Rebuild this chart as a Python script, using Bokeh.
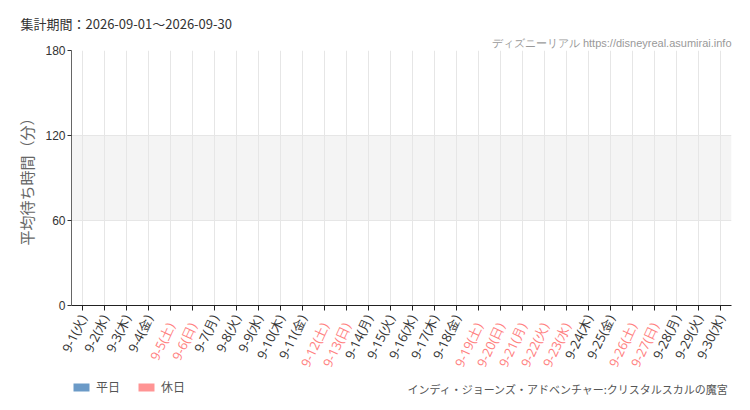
import math
from bokeh.plotting import figure
from bokeh.layouts import column
from bokeh.models import (ColumnDataSource, FactorRange, Range1d, BoxAnnotation,
                          Legend, LegendItem, FixedTicker, CustomJSTickFormatter,
                          CategoricalAxis, Title, Label)
from bokeh.embed import file_html
from bokeh.resources import INLINE

# ---- data ----
dates = ["9-1", "9-2", "9-3", "9-4", "9-5", "9-6", "9-7", "9-8", "9-9", "9-10",
         "9-11", "9-12", "9-13", "9-14", "9-15", "9-16", "9-17", "9-18", "9-19", "9-20",
         "9-21", "9-22", "9-23", "9-24", "9-25", "9-26", "9-27", "9-28", "9-29", "9-30"]
dows = ["火", "水", "木", "金", "土", "日", "月", "火", "水", "木",
        "金", "土", "日", "月", "火", "水", "木", "金", "土", "日",
        "月", "火", "水", "木", "金", "土", "日", "月", "火", "水"]
is_holiday = [0, 0, 0, 0, 1, 1, 0, 0, 0, 0,
              0, 1, 1, 0, 0, 0, 0, 0, 1, 1,
              1, 1, 1, 0, 0, 1, 1, 0, 0, 0]
# no wait-time values were recorded in this period (the chart is empty)
avg_wait = [None, None, None, None, None, None, None, None, None, None,
            None, None, None, None, None, None, None, None, None, None,
            None, None, None, None, None, None, None, None, None, None]
y_ticks = [0, 60, 120, 180]
period_text = "集計期間：2026-09-01〜2026-09-30"
site_text = "ディズニーリアル https://disneyreal.asumirai.info"
attraction = "インディ・ジョーンズ・アドベンチャー:クリスタルスカルの魔宮"
y_label = "平均待ち時間（分）"
legend_labels = ["平日", "休日"]

WEEKDAY_COLOR = "#6b9ac7"
HOLIDAY_COLOR = "#ff9494"
HOLIDAY_TEXT = "#ff8080"
TEXT_DARK = "#333333"

cats = [f"{d}({w})" for d, w in zip(dates, dows)]
hol_cats = [c for c, h in zip(cats, is_holiday) if h]
nan = float("nan")
vals = [nan if v is None else v for v in avg_wait]

xr = FactorRange(*cats)

p = figure(frame_width=660, frame_height=255, x_range=xr,
           y_range=Range1d(y_ticks[0], y_ticks[-1]),
           output_backend="svg", toolbar_location=None,
           min_border_left=71, min_border_right=19, min_border_top=50,
           min_border_bottom=68)
p.outline_line_color = None
p.background_fill_color = "white"
p.border_fill_color = "white"

p.add_layout(BoxAnnotation(bottom=y_ticks[1], top=y_ticks[2], fill_color="#f4f4f4",
                           fill_alpha=1, line_color=None, level="image"))

wk_src = ColumnDataSource(dict(x=[c for c, h in zip(cats, is_holiday) if not h],
                               top=[v for v, h in zip(vals, is_holiday) if not h]))
hd_src = ColumnDataSource(dict(x=[c for c, h in zip(cats, is_holiday) if h],
                               top=[v for v, h in zip(vals, is_holiday) if h]))
p.vbar(x="x", top="top", width=0.7, source=wk_src, fill_color=WEEKDAY_COLOR, line_color=None)
p.vbar(x="x", top="top", width=0.7, source=hd_src, fill_color=HOLIDAY_COLOR, line_color=None)

p.xgrid.grid_line_color = "#e6e6e6"
p.ygrid.grid_line_color = "#e6e6e6"
p.ygrid.ticker = FixedTicker(ticks=y_ticks)

# ---- y axis ----
ya = p.yaxis[0]
ya.ticker = FixedTicker(ticks=y_ticks)
ya.axis_line_color = "#666666"
ya.major_tick_line_color = "#333333"
ya.major_tick_in = 0
ya.major_tick_out = 4
ya.minor_tick_line_color = None
ya.major_label_text_font = "Liberation Sans"
ya.major_label_text_font_size = "12px"
ya.major_label_text_color = "#333333"
ya.major_label_standoff = 2
ya.axis_label = y_label
ya.axis_label_text_font = "Noto Sans CJK JP"
ya.axis_label_text_font_style = "normal"
ya.axis_label_text_font_size = "15px"
ya.axis_label_text_color = "#666666"
ya.axis_label_standoff = 5

ORIENT = math.radians(65)

# ---- x axis A: weekday labels (dark) ----
xa = p.below[0]
xa.axis_line_color = "#222222"
xa.major_tick_line_color = "#222222"
xa.major_tick_in = 0
xa.major_tick_out = 5
xa.major_label_orientation = ORIENT
xa.major_label_standoff = 5
xa.major_label_text_font = "Open Sans"
xa.major_label_text_font_size = "13px"
xa.major_label_text_color = TEXT_DARK
xa.formatter = CustomJSTickFormatter(args=dict(hol=hol_cats),
                                     code="return hol.includes(tick) ? '' : tick")

# ---- x axis B: holiday labels (pink), pulled up onto the same row ----
xb = CategoricalAxis()
xb.axis_line_color = None
xb.major_tick_line_color = None
xb.minor_tick_line_color = None
xb.major_tick_in = 0
xb.major_tick_out = 0
xb.major_label_orientation = ORIENT
xb.major_label_standoff = -45
xb.major_label_text_font = "Open Sans"
xb.major_label_text_font_size = "13px"
xb.major_label_text_color = HOLIDAY_TEXT
xb.formatter = CustomJSTickFormatter(args=dict(hol=hol_cats),
                                     code="return hol.includes(tick) ? tick : ''")
p.add_layout(xb, "below")

# ---- top texts ----
p.add_layout(Title(text=site_text, align="right", standoff=4,
                   text_font="Liberation Sans", text_font_size="11px",
                   text_font_style="normal", text_color="#999999"), "above")
p.add_layout(Title(text=period_text, align="left", offset=-51, standoff=0,
                   text_font="Noto Sans CJK JP", text_font_size="13px",
                   text_font_style="normal", text_color=TEXT_DARK), "above")

# ---- bottom strip: legend and attraction name ----
p2 = figure(frame_width=660, frame_height=37, x_range=xr, y_range=Range1d(0, 1),
            output_backend="svg", toolbar_location=None,
            min_border_left=71, min_border_right=19, min_border_top=0,
            min_border_bottom=0)
p2.outline_line_color = None
p2.background_fill_color = "white"
p2.border_fill_color = "white"
p2.axis.visible = False
p2.grid.visible = False

q1 = p2.vbar(x="x", top="top", width=0.7, source=wk_src, fill_color=WEEKDAY_COLOR, line_color=None)
q2 = p2.vbar(x="x", top="top", width=0.7, source=hd_src, fill_color=HOLIDAY_COLOR, line_color=None)

legend = Legend(items=[LegendItem(label=legend_labels[0], renderers=[q1]),
                       LegendItem(label=legend_labels[1], renderers=[q2])],
                orientation="horizontal", location=(0, 18),
                glyph_width=20, glyph_height=10, label_height=10,
                label_standoff=5, spacing=16, padding=0, margin=0,
                border_line_color=None, background_fill_alpha=0,
                label_text_font="Noto Sans CJK JP", label_text_font_size="12px",
                label_text_color="#555555")
p2.add_layout(legend, "center")

p2.add_layout(Label(x=658, y=25, x_units="screen", y_units="screen", text=attraction,
                    text_font="Noto Sans CJK JP", text_font_size="11px",
                    text_color="#555555", text_baseline="middle", text_align="right"))

layout = column(p, p2, spacing=0)
open("out.html", "w").write(file_html(layout, INLINE))
